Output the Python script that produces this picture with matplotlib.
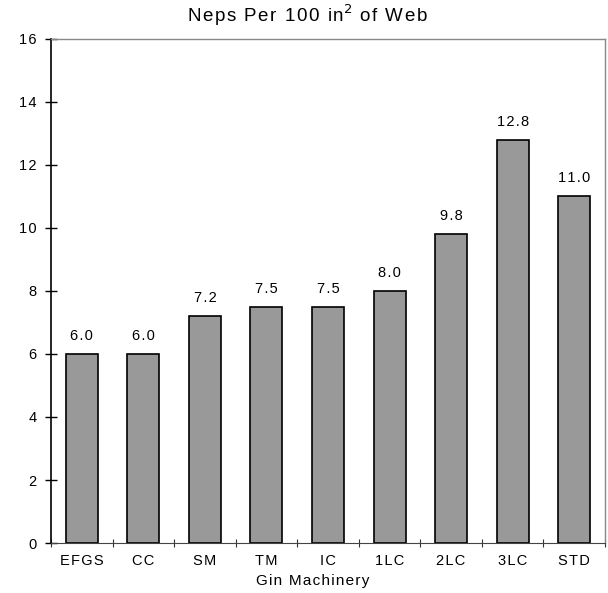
import matplotlib.pyplot as plt
import numpy as np

# Data
machines = ['EFGS', 'CC', 'SM', 'TM', 'IC', '1LC', '2LC', '3LC', 'STD']
neps = [6.0, 6.0, 7.2, 7.5, 7.5, 8.0, 9.8, 12.8, 11.0]
yticks = [0, 2, 4, 6, 8, 10, 12, 14, 16]

plt.rcParams['font.family'] = ['Liberation Sans', 'DejaVu Sans']


def spaced(s):
    # the original has loose letter spacing, mimic with hair spaces
    return '\u200a'.join(s)


fig = plt.figure(figsize=(6.08, 5.93), dpi=100)
ax = fig.add_axes([0.0839, 0.0843, 0.9111, 0.8500])

x = np.arange(len(machines))
ax.bar(x, neps, width=0.52, color='#999999', edgecolor='black', linewidth=1.2, zorder=2)

# value labels above each bar
for xi, v in zip(x, neps):
    ax.text(xi, v + 0.35, spaced(f'{v:.1f}'), ha='center', va='bottom', fontsize=10.5)

ax.set_xlim(-0.5, len(machines) - 0.5)
ax.set_ylim(0, 16)
ax.set_yticks(yticks)
ax.set_yticklabels([spaced(str(t)) for t in yticks])
ax.set_xticks(x)
ax.set_xticklabels([spaced(m) for m in machines])
ax.set_xticks(np.arange(len(machines) + 1) - 0.5, minor=True)

ax.tick_params(axis='y', direction='inout', length=9, width=1, labelsize=10.5, pad=6)
ax.tick_params(axis='x', which='major', length=0, labelsize=10.5, pad=8)
ax.tick_params(axis='x', which='minor', direction='inout', length=6, width=0.8, color='#333333')

ax.spines['left'].set_color('black')
ax.spines['left'].set_linewidth(1.2)
ax.spines['bottom'].set_color('#444444')
for s in ['top', 'right']:
    ax.spines[s].set_color('#888888')
    ax.spines[s].set_linewidth(1)

ax.set_xlabel(spaced('Gin Machinery'), fontsize=11, labelpad=0)
ax.xaxis.set_label_coords(0.473, -0.062)
ax.set_title(spaced('Neps Per 100 in') + '$^2$' + spaced(' of Web'), fontsize=13.5, pad=12, x=0.462)

plt.savefig('out.png', dpi=100)
